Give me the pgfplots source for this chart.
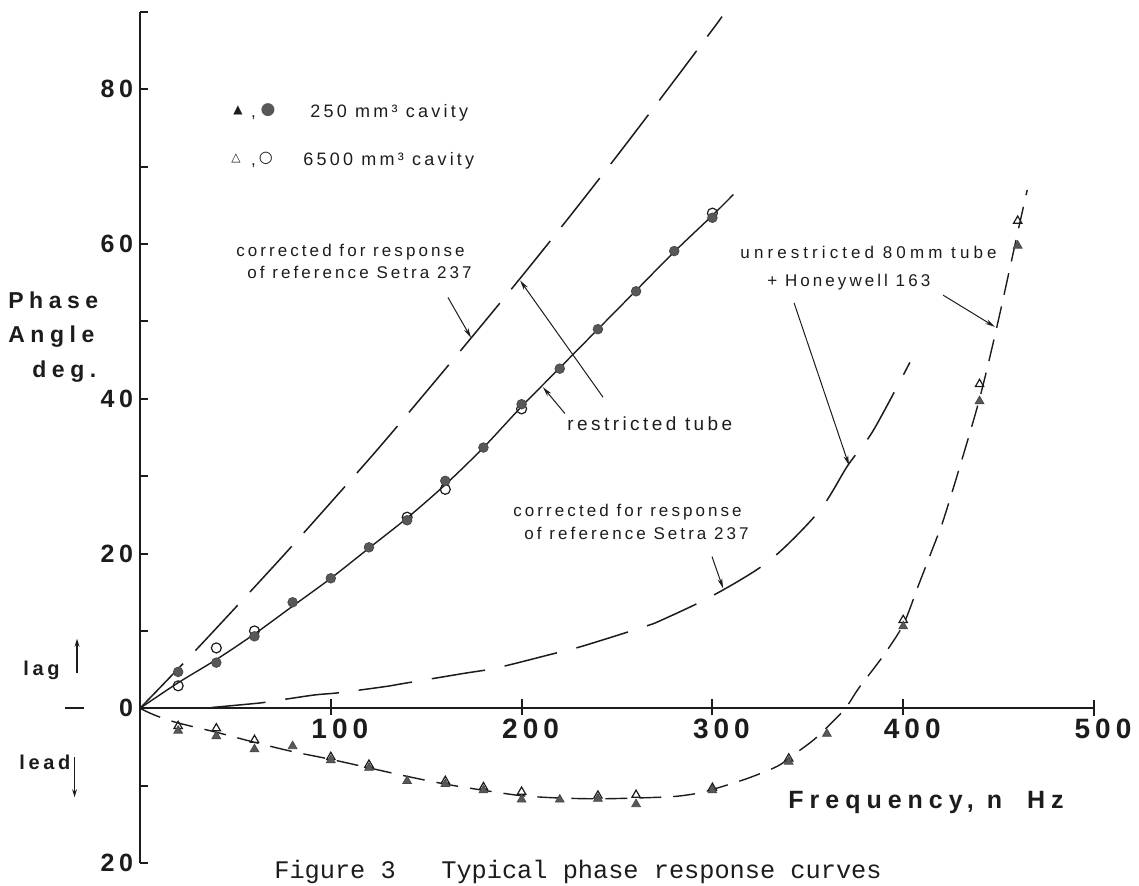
\documentclass[border=0pt]{standalone}
\usepackage{pgfplots}
\pgfplotsset{compat=1.18}
\usepackage{fontspec}
\usetikzlibrary{arrows.meta}
\setmainfont{Liberation Sans}
\newfontfamily\lsA[LetterSpace=18]{Liberation Sans}
\newfontfamily\lsB[LetterSpace=24]{Liberation Sans}
\newfontfamily\monof{Liberation Mono}
\newfontfamily\symf{DejaVu Sans}
\definecolor{ink}{HTML}{1C1C1C}
\definecolor{markgray}{HTML}{585858}
\tikzset{
  ann/.style={font=\lsA\fontsize{8.5}{10}\selectfont, text=ink, inner sep=0pt, anchor=base west},
  pointer/.style={draw=ink, line width=0.5pt, -{Stealth[length=5pt,width=2.4pt]}},
}
\begin{document}
\begin{tikzpicture}
\useasboundingbox (-70pt,-11pt) rectangle (499.5pt,431.5pt);
\begin{axis}[
  at={(0pt,0pt)}, anchor=south west,
  scale only axis, width=477pt, height=425.5pt,
  xmin=0, xmax=500, ymin=-20, ymax=90,
  axis x line=middle, axis y line=left,
  every inner x axis line/.append style={-},
  every outer x axis line/.append style={-},
  every inner y axis line/.append style={-},
  every outer y axis line/.append style={-},
  axis line style={line width=1pt, draw=ink},
  hide obscured x ticks=false, hide obscured y ticks=false,
  xtick={100,200,300,400,500},
  ytick={-20,0,20,40,60,80,90},
  yticklabels={20,0,20,40,60,80,{}},
  minor ytick={-10,10,30,50,70},
  tick align=inside,
  major tick length=4pt, minor tick length=4pt,
  xtick style={draw=none},
  ytick style={line width=1pt, draw=ink},
  minor tick style={line width=1pt, draw=ink},
  /pgf/number format/assume math mode=true,
  xticklabel style={font=\lsA\bfseries\fontsize{14}{16}\selectfont, text=ink, xshift=4.5pt, yshift=-2pt},
  yticklabel style={font=\lsA\bfseries\fontsize{12.5}{14}\selectfont, text=ink},
  clip=false,
]
% x ticks crossing the axis
\draw[ink, line width=1pt] ([yshift=-3.5pt]axis cs:100,0) -- ([yshift=4.5pt]axis cs:100,0);
\draw[ink, line width=1pt] ([yshift=-3.5pt]axis cs:200,0) -- ([yshift=4.5pt]axis cs:200,0);
\draw[ink, line width=1pt] ([yshift=-3.5pt]axis cs:300,0) -- ([yshift=4.5pt]axis cs:300,0);
\draw[ink, line width=1pt] ([yshift=-3.5pt]axis cs:400,0) -- ([yshift=4.5pt]axis cs:400,0);
\draw[ink, line width=1pt] ([yshift=-4pt]axis cs:500,0) -- ([yshift=4pt]axis cs:500,0);

% corrected (restricted tube) - long dashes
\addplot[ink, line width=0.75pt, dash pattern=on 31pt off 9pt, smooth] coordinates {
(0,0) (25,6.4) (50,13.0) (75,19.7) (100,26.6) (125,33.6) (150,40.9) (175,48.3)
(200,55.8) (225,63.5) (250,71.4) (275,79.5) (300,87.7) (305,89.4)};

% restricted tube - solid
\addplot[ink, line width=0.7pt, smooth] coordinates {
(0,0) (20,3.3) (40,6.3) (60,9.6) (80,13.2) (100,16.8) (120,20.7) (140,24.6)
(160,28.9) (180,33.7) (200,39.0) (220,44.0) (240,49.0) (260,54.0) (280,59.0)
(300,63.7) (311,66.4)};

% corrected (unrestricted tube) - long dashes
\addplot[ink, line width=0.75pt, dash pattern=on 27pt off 10pt, smooth] coordinates {
(37.6,0.1) (59.4,0.6) (66.4,0.8) (90.8,1.7) (104,2.0) (128.4,2.8) (138,3.2)
(169.5,4.5) (186.6,5.2) (215.8,7.0) (231.5,8.0) (263.8,10.5) (273.4,11.4)
(300.5,14.6) (330,19.1) (356,25.5) (371,31.4) (384.3,35.9) (403.5,44.7)};

% unrestricted 80mm tube + Honeywell 163 - short dashes
\addplot[ink, line width=0.7pt, dash pattern=on 11pt off 6pt, smooth] coordinates {
(0,0) (5,-0.6) (10,-1.1) (20,-1.9) (40,-3.1) (60,-4.4) (80,-5.6) (100,-6.6)
(120,-7.7) (140,-8.8) (160,-9.8) (180,-10.6) (200,-11.3) (220,-11.6) (240,-11.7)
(260,-11.6) (280,-11.4) (292,-11.0) (300,-10.5) (318,-9.1) (334,-7.5) (342,-6.1)
(353,-4.1) (362,-2.0) (370,0.1) (377,2.7) (389,6.6) (400,10.8) (408,15.9)
(416,21.0) (421,24.3) (430,31.5) (440,40.0) (449,49.2) (460,61.5) (465,67.0)};

% 6500 mm3 cavity - open circles
\addplot[only marks, mark=o, mark size=2.5pt, mark options={draw=ink, fill=white, line width=0.6pt}] coordinates {
(20,2.9) (40,7.8) (60,10.0) (140,24.7) (160,28.3) (200,38.7) (300,64.0)};
% 250 mm3 cavity - filled circles
\addplot[only marks, mark=*, mark size=2.4pt, mark options={draw=ink!80, fill=markgray, line width=0.4pt}] coordinates {
(20,4.7) (40,5.9) (60,9.3) (80,13.7) (100,16.8) (120,20.8) (140,24.3) (160,29.4)
(180,33.7) (200,39.3) (220,43.9) (240,49.0) (260,53.9) (280,59.1) (300,63.4)};

% 6500 mm3 cavity - open triangles
\addplot[only marks, mark=triangle, mark size=2.4pt, mark options={draw=ink, fill=white, line width=0.6pt}] coordinates {
(20,-2.3) (40,-2.6) (60,-4.1) (100,-6.3) (120,-7.3) (160,-9.4) (180,-10.2)
(200,-10.8) (240,-11.3) (260,-11.2) (300,-10.3) (340,-6.5) (400,11.4) (440,41.9) (460,63.0)};
% 250 mm3 cavity - filled triangles
\addplot[only marks, mark=triangle*, mark size=2.5pt, mark options={draw=ink!80, fill=markgray, line width=0.4pt}] coordinates {
(20,-2.9) (40,-3.6) (60,-5.3) (80,-4.9) (100,-6.7) (120,-7.7) (140,-9.4) (160,-9.8)
(180,-10.6) (200,-11.8) (220,-11.8) (240,-11.7) (260,-12.4) (300,-10.6) (340,-6.9)
(360,-3.3) (400,10.6) (440,39.7) (460,59.8)};

% legend
\node[inner sep=0pt, text=ink] at (axis cs:51.4,77.3) {\symf\fontsize{6}{7}\selectfont ▲};
\node[ann] at (axis cs:58.0,76.4) {,};
\node[inner sep=0pt, text=markgray] at (axis cs:67.1,77.3) {\symf\fontsize{8.5}{9}\selectfont ●};
\node[ann, font=\lsA\fontsize{9}{11}\selectfont] at (axis cs:89.1,76.4) {250 mm³ cavity};
\node[inner sep=0pt, text=ink] at (axis cs:50.3,71.1) {\symf\fontsize{6}{7}\selectfont △};
\node[ann] at (axis cs:58.0,70.2) {,};
\node[inner sep=0pt, text=ink] at (axis cs:66.0,71.1) {\symf\fontsize{8}{9}\selectfont ○};
\node[ann, font=\lsA\fontsize{9}{11}\selectfont] at (axis cs:85.4,70.2) {6500 mm³ cavity};

% annotations
\node[ann] at (axis cs:50.3,58.4) {corrected for response};
\node[ann] at (axis cs:56.1,55.5) {of reference Setra 237};
\draw[pointer] (axis cs:161.4,53.1) -- (axis cs:173.5,47.9);

\node[ann, font=\lsA\fontsize{9.5}{11}\selectfont] at (axis cs:223.8,35.9) {restricted tube};
\draw[pointer] (axis cs:242.7,40.2) -- (axis cs:199.2,55.3);
\draw[pointer] (axis cs:222.7,38.1) -- (axis cs:211.2,41.5);

\node[ann] at (axis cs:195.5,24.8) {corrected for response};
\node[ann] at (axis cs:201.3,21.8) {of reference Setra 237};
\draw[pointer] (axis cs:299.8,19.6) -- (axis cs:305.6,15.5);

\node[ann, font=\lsB\fontsize{8.5}{10}\selectfont] at (axis cs:314.5,58.2) {unrestricted 80mm tube};
\node[ann, font=\lsA\fontsize{8.5}{10}\selectfont] at (axis cs:328.6,54.5) {+ Honeywell 163};
\draw[pointer] (axis cs:342.8,52.4) -- (axis cs:371.6,31.4);
\draw[pointer] (axis cs:420.9,53.4) -- (axis cs:448.1,49.3);

% axis titles
\node[ann, font=\lsB\bfseries\fontsize{11.5}{13}\selectfont] at (axis cs:-69.2,51.7) {Phase};
\node[ann, font=\lsB\bfseries\fontsize{11.5}{13}\selectfont] at (axis cs:-69.2,47.3) {Angle};
\node[ann, font=\lsB\bfseries\fontsize{11.5}{13}\selectfont] at (axis cs:-56.6,42.8) {deg.};
\node[ann, font=\lsB\bfseries\fontsize{12.5}{14}\selectfont] at (axis cs:339.6,-12.9) {Frequency, n\hspace{6pt} Hz};

% lag / lead
\node[ann, font=\lsA\bfseries\fontsize{10}{12}\selectfont] at (axis cs:-61.3,4.3) {lag};
\draw[ink, line width=0.6pt, -{Stealth[length=4pt,width=2.4pt]}] (axis cs:-33.0,4.5) -- (axis cs:-33.0,9.0);
\node[ann, font=\lsA\bfseries\fontsize{10}{12}\selectfont] at (axis cs:-63.4,-7.9) {lead};
\draw[ink, line width=0.6pt, -{Stealth[length=4pt,width=2.4pt]}] (axis cs:-34.3,-6.3) -- (axis cs:-34.3,-11.5);
\draw[ink, line width=1pt] (axis cs:-39.3,0) -- (axis cs:-29.4,0);

% caption
\node[ann, font=\monof\fontsize{12.65}{14}\selectfont] at (axis cs:70.2,-22.0) {Figure 3\ \ \ Typical phase response curves};
\end{axis}
\end{tikzpicture}
\end{document}
